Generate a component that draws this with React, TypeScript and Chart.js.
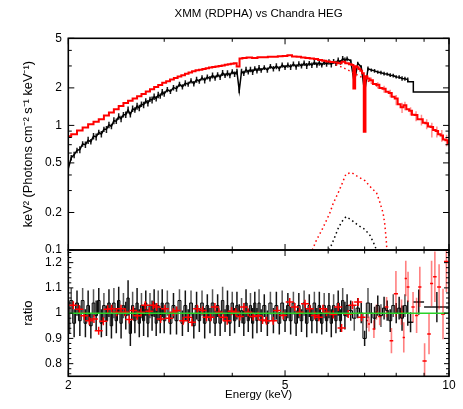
import React, { useEffect, useRef } from 'react';
import { Chart, registerables } from 'chart.js';

Chart.register(...registerables);

const FONT = '"Liberation Sans", Arial, sans-serif';

// ---------- text ----------
const titleText = 'XMM (RDPHA) vs Chandra HEG';
const xTitle = 'Energy (keV)';
const yTopTitle = 'keV\u00B2 (Photons cm\u207B\u00B2 s\u207B\u00B9 keV\u207B\u00B9)';
const yRatioTitle = 'ratio';

// ---------- ticks ----------
const xTicksMajor = [2, 5, 10];
const xTicksMinor = [3, 4, 6, 7, 8, 9];
const yTopMajor = [0.1, 0.2, 0.5, 1, 2, 5];
const yTopMinor = [0.3, 0.4, 0.6, 0.7, 0.8, 0.9, 3, 4];
const yRatioMajor = [0.8, 0.9, 1, 1.1, 1.2];
const yRatioMinor = [0.76, 0.78, 0.82, 0.84, 0.86, 0.88, 0.92, 0.94, 0.96, 0.98, 1.02, 1.04, 1.06, 1.08, 1.12, 1.14, 1.16, 1.18, 1.22, 1.24];

// ---------- Chandra HEG (black) ----------
const hegEnergy = [
  2.000, 2.025, 2.050, 2.075, 2.100, 2.125, 2.150, 2.175, 2.200, 2.225, 2.250, 2.275, 2.300, 2.325, 2.350, 2.375, 2.400, 2.425, 2.450, 2.475,
  2.500, 2.525, 2.550, 2.575, 2.600, 2.625, 2.650, 2.675, 2.700, 2.725, 2.750, 2.775, 2.800, 2.825, 2.850, 2.875, 2.900, 2.925, 2.950, 2.975, 3.000,
  3.04, 3.08, 3.12, 3.16, 3.20, 3.24, 3.28, 3.32, 3.36, 3.40, 3.44, 3.48, 3.52, 3.56, 3.60, 3.64, 3.68, 3.72, 3.76, 3.80,
  3.84, 3.88, 3.92, 3.96, 4.00, 4.04, 4.08, 4.12, 4.16, 4.20, 4.24, 4.28, 4.32, 4.36, 4.40, 4.44, 4.48, 4.52,
  4.58, 4.64, 4.70, 4.76, 4.82, 4.88, 4.94, 5.00, 5.06, 5.12, 5.18, 5.24, 5.30, 5.36, 5.42, 5.48, 5.54, 5.60, 5.66, 5.72,
  5.78, 5.84, 5.90, 5.96, 6.02, 6.08, 6.14, 6.20, 6.26, 6.32, 6.38, 6.44, 6.50,
  6.6, 6.7, 6.8, 6.9, 7.0, 7.1, 7.2, 7.3, 7.4, 7.5, 7.6, 7.7, 7.8, 7.9, 8.0, 8.1, 8.2, 8.3, 8.4,
];
const hegFlux = [
  0.45, 0.55, 0.58, 0.63, 0.64, 0.71, 0.70, 0.76, 0.74, 0.82, 0.81, 0.88, 0.85, 0.93, 0.93, 1.01, 0.98, 1.09, 1.08, 1.18,
  1.13, 1.22, 1.22, 1.33, 1.22, 1.36, 1.33, 1.43, 1.38, 1.48, 1.46, 1.57, 1.51, 1.62, 1.60, 1.70, 1.64, 1.76, 1.72, 1.85, 1.79,
  1.94, 1.87, 2.01, 1.97, 2.14, 2.04, 2.18, 2.14, 2.28, 2.16, 2.33, 2.26, 2.41, 2.30, 2.45, 2.37, 2.52, 2.40, 2.55, 2.44,
  2.64, 2.51, 2.63, 2.52, 2.70, 2.58, 2.70, 1.90, 2.71, 2.62, 2.80, 2.68, 2.81, 2.68, 2.86, 2.74, 2.89, 2.77,
  2.91, 2.78, 2.98, 2.85, 2.99, 2.85, 3.05, 2.92, 3.05, 2.94, 3.11, 2.95, 3.11, 3.00, 3.16, 3.00, 3.15, 3.04, 3.20, 3.06,
  3.19, 3.05, 3.21, 3.10, 3.23, 3.09, 3.26, 3.15, 3.34, 3.21, 3.43, 3.33, 3.42,
  3.30, 2.20, 3.15, 2.95, 1.85, 2.86, 2.78, 2.74, 2.68, 2.65, 2.60, 2.58, 2.53, 2.51, 2.45, 2.44, 2.38, 2.37, 2.33,
];
// fractional 1-sigma error of the HEG flux points
const hegFluxFracErr = [
  0.065, 0.05, 0.06, 0.05, 0.065, 0.05, 0.06, 0.065, 0.05, 0.06, 0.065, 0.05, 0.06, 0.05, 0.065, 0.06, 0.05, 0.065, 0.05, 0.06,
  0.06, 0.05, 0.06, 0.065, 0.05, 0.06, 0.05, 0.065, 0.06, 0.05, 0.06, 0.05, 0.06, 0.05, 0.065, 0.06, 0.05, 0.06, 0.05, 0.06, 0.05,
  0.05, 0.045, 0.05, 0.055, 0.045, 0.05, 0.055, 0.045, 0.05, 0.05, 0.055, 0.045, 0.05, 0.055, 0.045, 0.05, 0.055, 0.05, 0.045, 0.05,
  0.055, 0.045, 0.055, 0.05, 0.045, 0.05, 0.055, 0.045, 0.05, 0.05, 0.055, 0.045, 0.05, 0.055, 0.045, 0.05, 0.055, 0.045,
  0.045, 0.05, 0.045, 0.05, 0.055, 0.045, 0.05, 0.045, 0.05, 0.055, 0.045, 0.05, 0.05, 0.045, 0.05, 0.055, 0.045, 0.05, 0.045, 0.05,
  0.055, 0.045, 0.05, 0.045, 0.05, 0.055, 0.045, 0.05, 0.05, 0.045, 0.05, 0.055, 0.045,
  0.03, 0.04, 0.03, 0.03, 0.03, 0.04, 0.03, 0.035, 0.03, 0.035, 0.035, 0.03, 0.035, 0.035, 0.03, 0.035, 0.04, 0.035, 0.04,
];
const hegRatio = [
  0.92, 1.05, 0.96, 1.04, 0.97, 1.05, 0.96, 1.03, 0.95, 1.04, 0.99, 1.05, 0.96, 1.03, 0.97, 1.04, 0.95, 1.04, 0.97, 1.05,
  0.96, 1.03, 0.99, 1.06, 0.92, 1.03, 0.97, 1.04, 0.96, 1.03, 0.97, 1.04, 0.96, 1.03, 0.99, 1.04, 0.96, 1.03, 0.97, 1.04, 0.97,
  1.04, 0.96, 1.03, 0.97, 1.05, 0.96, 1.03, 0.97, 1.04, 0.95, 1.03, 0.97, 1.04, 0.96, 1.03, 0.97, 1.04, 0.96, 1.03, 0.96,
  1.05, 0.97, 1.03, 0.96, 1.04, 0.97, 1.03, 0.99, 1.01, 0.96, 1.04, 0.97, 1.03, 0.96, 1.04, 0.97, 1.04, 0.97,
  1.03, 0.96, 1.04, 0.97, 1.03, 0.96, 1.04, 0.97, 1.03, 0.97, 1.04, 0.96, 1.03, 0.97, 1.04, 0.96, 1.03, 0.97, 1.04, 0.97,
  1.03, 0.96, 1.03, 0.97, 1.03, 0.96, 1.03, 0.97, 1.04, 0.97, 1.05, 0.99, 1.03,
  1.01, 0.98, 1.02, 1.00, 0.90, 1.04, 1.00, 0.98, 1.03, 0.99, 1.02, 1.01, 0.97, 1.03, 1.00, 1.02, 0.98, 1.03, 1.00,
];
const hegRatioErr = [
  0.06, 0.05, 0.055, 0.05, 0.06, 0.05, 0.055, 0.06, 0.05, 0.055, 0.06, 0.05, 0.055, 0.05, 0.06, 0.055, 0.05, 0.06, 0.05, 0.055,
  0.06, 0.05, 0.055, 0.07, 0.05, 0.055, 0.05, 0.06, 0.055, 0.05, 0.06, 0.05, 0.055, 0.05, 0.06, 0.055, 0.05, 0.06, 0.05, 0.055, 0.05,
  0.05, 0.045, 0.05, 0.055, 0.045, 0.05, 0.06, 0.045, 0.05, 0.05, 0.055, 0.045, 0.05, 0.06, 0.045, 0.05, 0.055, 0.05, 0.045, 0.05,
  0.055, 0.045, 0.06, 0.05, 0.045, 0.05, 0.055, 0.045, 0.05, 0.05, 0.055, 0.045, 0.05, 0.06, 0.045, 0.05, 0.055, 0.045,
  0.045, 0.05, 0.045, 0.05, 0.055, 0.045, 0.05, 0.045, 0.05, 0.055, 0.045, 0.05, 0.05, 0.045, 0.05, 0.055, 0.045, 0.05, 0.045, 0.05,
  0.055, 0.045, 0.05, 0.045, 0.05, 0.055, 0.045, 0.05, 0.05, 0.045, 0.05, 0.055, 0.045,
  0.04, 0.05, 0.04, 0.04, 0.03, 0.06, 0.04, 0.045, 0.04, 0.045, 0.045, 0.04, 0.045, 0.045, 0.04, 0.045, 0.05, 0.045, 0.05,
];
// coarse HEG bins above 8.4 keV
const hegTailEnergy = [8.4, 8.6, 9.0, 10.0];
const hegTailFlux = [2.33, 2.24, 1.85, 1.85];
const hegTailRatioE = [8.5, 8.8, 9.5];
const hegTailRatio = [0.964, 1.044, 1.024];
const hegTailRatioErr = [0.04, 0.05, 0.06];
const hegTailRatioBin = [0.1, 0.2, 0.5];
// HEG line component (dotted)
const hegLineE = [6.02, 6.08, 6.17, 6.26, 6.35, 6.47, 6.62, 6.81, 7.01, 7.16, 7.26, 7.36];
const hegLineF = [0.1, 0.109, 0.127, 0.149, 0.168, 0.185, 0.174, 0.158, 0.146, 0.131, 0.116, 0.1];

// ---------- XMM (red) ----------
const xmmEnergy = [
  2.00, 2.05, 2.10, 2.15, 2.20, 2.25, 2.30, 2.35, 2.40, 2.45, 2.50, 2.55, 2.60, 2.65, 2.70, 2.75, 2.80, 2.85, 2.90, 2.95,
  3.00, 3.05, 3.10, 3.15, 3.20, 3.25, 3.30, 3.35, 3.40, 3.45, 3.50, 3.55, 3.60, 3.65, 3.70, 3.75, 3.80, 3.85, 3.90, 3.95, 4.00,
  4.05, 4.10, 4.15,
  4.2, 4.3, 4.4, 4.5, 4.6, 4.7, 4.8, 4.9, 5.0, 5.1, 5.2, 5.3, 5.4, 5.5, 5.6, 5.7, 5.8, 5.9, 6.0, 6.1, 6.2, 6.3, 6.4, 6.5, 6.6,
  6.65, 6.70, 6.75, 6.80, 6.85, 6.90, 6.95, 7.00, 7.05, 7.10,
  7.2, 7.3, 7.4, 7.5, 7.6, 7.7, 7.8, 7.9, 8.0, 8.1, 8.2, 8.3, 8.4, 8.5, 8.6, 8.7, 8.8, 8.9, 9.0, 9.1, 9.2, 9.3, 9.4, 9.5,
  9.6, 9.7, 9.8, 9.9, 10.0,
];
const xmmFlux = [
  0.82, 0.85, 0.91, 0.96, 1.02, 1.07, 1.12, 1.20, 1.27, 1.35, 1.43, 1.51, 1.58, 1.64, 1.71, 1.79, 1.87, 1.95, 2.03, 2.11,
  2.20, 2.26, 2.33, 2.40, 2.47, 2.53, 2.60, 2.66, 2.72, 2.77, 2.80, 2.84, 2.88, 2.91, 2.94, 2.97, 3.00, 3.03, 3.06, 3.09, 3.12,
  3.16, 2.97, 3.45,
  3.47, 3.50, 3.48, 3.53, 3.52, 3.56, 3.55, 3.59, 3.60, 3.65, 3.58, 3.56, 3.50, 3.48, 3.44, 3.41, 3.35, 3.30, 3.26, 3.22, 3.19, 3.16, 3.24, 3.15, 3.10,
  3.05, 1.98, 2.98, 2.93, 2.84, 2.74, 2.62, 0.89, 2.48, 2.38,
  2.30, 2.15, 2.12, 2.00, 1.97, 1.86, 1.82, 1.70, 1.64, 1.48, 1.40, 1.45, 1.35, 1.31, 1.22, 1.21, 1.12, 1.12, 1.05, 1.04,
  0.98, 0.97, 0.92, 0.90, 0.85, 0.83, 0.77, 0.76, 0.72,
];
// XMM error bars above 7 keV (lower / upper)
const xmmBarE = [7.1, 7.2, 7.4, 7.6, 7.8, 8.0, 8.2, 8.3, 8.5, 8.7, 8.9, 9.1, 9.3, 9.5, 9.7, 9.9];
const xmmBarLo = [2.25, 2.15, 1.98, 1.83, 1.68, 1.45, 1.26, 1.32, 1.20, 1.08, 1.00, 0.93, 0.80, 0.80, 0.74, 0.68];
const xmmBarHi = [2.50, 2.42, 2.22, 2.08, 1.93, 1.75, 1.52, 1.55, 1.40, 1.30, 1.22, 1.12, 1.05, 0.98, 0.92, 0.84];
// XMM continuum (dotted) and line component (dotted)
const xmmContE = [6.2, 6.4, 6.6, 6.8, 7.0, 7.2, 7.4, 7.6];
const xmmContF = [3.07, 2.90, 2.71, 2.53, 2.36, 2.20, 2.06, 1.94];
const xmmLineE = [5.61, 5.71, 5.84, 5.96, 6.04, 6.13, 6.26, 6.35, 6.47, 6.62, 6.77, 7.01, 7.21, 7.36, 7.46, 7.57, 7.62, 7.67, 7.69];
const xmmLineF = [0.10, 0.12, 0.144, 0.174, 0.197, 0.237, 0.288, 0.333, 0.408, 0.418, 0.393, 0.36, 0.313, 0.288, 0.244, 0.197, 0.163, 0.12, 0.10];
// XMM ratio
const xmmRatioE = [
  2.043, 2.095, 2.140, 2.185, 2.229, 2.274, 2.319, 2.362, 2.402, 2.454, 2.499, 2.545, 2.588, 2.632, 2.677, 2.719, 2.769, 2.816, 2.864, 2.906,
  2.955, 3.009, 3.064, 3.117, 3.162, 3.251, 3.321, 3.373, 3.449, 3.529, 3.589, 3.650, 3.717, 3.781, 3.850, 3.915, 3.989, 4.062, 4.131, 4.201,
  4.278, 4.369, 4.463, 4.547, 4.624, 4.755, 4.836, 4.96, 5.10, 5.21, 5.32, 5.44, 5.55, 5.67, 5.77, 5.87, 5.96, 6.13, 6.26, 6.35,
  6.53, 6.65, 6.81, 6.91,
];
const xmmRatio = [
  1.031, 1.015, 0.990, 0.970, 0.977, 0.930, 0.968, 1.015, 1.017, 1.004, 1.017, 1.004, 0.975, 1.010, 0.990, 1.004, 1.031, 1.008, 1.031, 1.024,
  0.977, 1.017, 0.980, 1.004, 1.010, 0.970, 0.984, 0.964, 1.017, 1.010, 0.984, 0.984, 1.024, 1.004, 0.984, 0.970, 1.008, 1.004, 0.987, 1.024,
  1.004, 0.987, 0.990, 0.973, 0.970, 0.970, 1.010, 0.991, 1.044, 1.024, 1.004, 1.037, 1.017, 0.991, 0.984, 1.017, 1.004, 0.995, 1.024, 0.941,
  0.997, 1.031, 1.044, 0.984,
];
const xmmRatioHiE = [7.07, 7.13, 7.28, 7.36, 7.46, 7.68, 7.84, 7.99, 8.18, 8.26, 8.33, 8.41, 8.59, 8.72, 8.84, 9.02, 9.19, 9.29, 9.42, 9.59, 9.75, 9.89];
const xmmRatioHi = [0.971, 0.957, 0.937, 1.004, 0.987, 1.024, 0.891, 1.077, 1.004, 0.904, 1.137, 1.104, 1.024, 0.991, 1.104, 0.811, 0.917, 1.117, 1.144, 1.104, 0.997, 1.204];
const xmmRatioHiErr = [0.03, 0.03, 0.035, 0.03, 0.035, 0.04, 0.05, 0.09, 0.05, 0.06, 0.07, 0.06, 0.06, 0.07, 0.08, 0.07, 0.08, 0.09, 0.1, 0.09, 0.1, 0.12];
const xmmRatioHiBin = [0.03, 0.03, 0.04, 0.04, 0.05, 0.06, 0.06, 0.07, 0.05, 0.04, 0.04, 0.05, 0.06, 0.06, 0.06, 0.08, 0.07, 0.06, 0.07, 0.08, 0.08, 0.1];
// model reference line
const modelRatioE = [2, 10];
const modelRatio = [1, 1];

const pts = (xs: number[], ys: number[]) => xs.map((x, i) => ({ x, y: ys[i] }));

const panelPlugin = {
  id: 'xspecPanels',
  beforeDatasetsDraw(chart: any) {
    const { ctx, chartArea: ca, scales } = chart;
    const xs = scales.x, yt = scales.y, yr = scales.yr;
    const clipTo = (s: any) => {
      ctx.beginPath();
      ctx.rect(ca.left, s.top, ca.right - ca.left, s.bottom - s.top);
      ctx.clip();
    };
    const vbar = (x: number, lo: number, hi: number, ys: any) => {
      const px = xs.getPixelForValue(x);
      ctx.beginPath();
      ctx.moveTo(px, ys.getPixelForValue(lo));
      ctx.lineTo(px, ys.getPixelForValue(hi));
      ctx.stroke();
    };
    const hbar = (x0: number, x1: number, y: number, ys: any) => {
      const py = ys.getPixelForValue(y);
      ctx.beginPath();
      ctx.moveTo(xs.getPixelForValue(x0), py);
      ctx.lineTo(xs.getPixelForValue(x1), py);
      ctx.stroke();
    };
    // top panel error bars
    ctx.save();
    clipTo(yt);
    ctx.strokeStyle = 'rgba(0,0,0,0.9)';
    ctx.lineWidth = 1.5;
    hegEnergy.forEach((e, i) => vbar(e, hegFlux[i] * (1 - hegFluxFracErr[i]), hegFlux[i] * (1 + hegFluxFracErr[i]), yt));
    ctx.strokeStyle = 'rgba(255,0,0,0.45)';
    ctx.lineWidth = 1.5;
    xmmBarE.forEach((e, i) => vbar(e, xmmBarLo[i], xmmBarHi[i], yt));
    ctx.restore();

    // ratio panel
    ctx.save();
    clipTo(yr);
    ctx.lineWidth = 1.5;
    hegEnergy.forEach((e, i) => {
      ctx.strokeStyle = i % 4 === 1 ? 'rgba(70,70,70,0.9)' : 'rgba(0,0,0,0.92)';
      vbar(e, hegRatio[i] - hegRatioErr[i], hegRatio[i] + hegRatioErr[i], yr);
    });
    ctx.strokeStyle = 'rgba(0,0,0,0.9)';
    hegTailRatioE.forEach((e, i) => {
      vbar(e, hegTailRatio[i] - hegTailRatioErr[i], hegTailRatio[i] + hegTailRatioErr[i], yr);
      hbar(e - hegTailRatioBin[i], e + hegTailRatioBin[i], hegTailRatio[i], yr);
    });
    xmmRatioHiE.forEach((e, i) => {
      ctx.strokeStyle = 'rgba(255,0,0,0.5)';
      ctx.lineWidth = 1.6;
      vbar(e, xmmRatioHi[i] - xmmRatioHiErr[i], xmmRatioHi[i] + xmmRatioHiErr[i], yr);
      ctx.strokeStyle = '#ff0000';
      ctx.lineWidth = 1.5;
      hbar(e - xmmRatioHiBin[i], e + xmmRatioHiBin[i], xmmRatioHi[i], yr);
    });
    ctx.restore();
  },
  afterDatasetsDraw(chart: any) {
    const { ctx, chartArea: ca, scales } = chart;
    const xs = scales.x, yt = scales.y, yr = scales.yr;
    ctx.save();
    ctx.strokeStyle = '#000';
    ctx.lineWidth = 1;
    const line = (x0: number, y0: number, x1: number, y1: number) => {
      ctx.beginPath();
      ctx.moveTo(x0, y0);
      ctx.lineTo(x1, y1);
      ctx.stroke();
    };
    [yt, yr].forEach((ys: any) => {
      const top = ys.top, bot = ys.bottom;
      xTicksMajor.concat(xTicksMinor).forEach((v) => {
        const len = xTicksMajor.includes(v) ? 6 : 3.5;
        const px = xs.getPixelForValue(v);
        line(px, top, px, top + len);
        line(px, bot, px, bot - len);
      });
    });
    const yTicks = (ys: any, major: number[], minor: number[], lm: number, ln: number) => {
      major.concat(minor).forEach((v) => {
        const len = major.includes(v) ? lm : ln;
        const py = ys.getPixelForValue(v);
        line(ca.left, py, ca.left + len, py);
        line(ca.right, py, ca.right - len, py);
      });
    };
    yTicks(yt, yTopMajor, yTopMinor, 6, 3.5);
    yTicks(yr, yRatioMajor, yRatioMinor, 5, 3);
    ctx.lineWidth = 1.6;
    [yt, yr].forEach((ys: any) => {
      ctx.strokeRect(ca.left, ys.top, ca.right - ca.left, ys.bottom - ys.top);
    });
    ctx.restore();
  },
};

export default function App() {
  const ref = useRef<HTMLCanvasElement>(null);
  useEffect(() => {
    Chart.defaults.font.family = FONT;
    Chart.defaults.font.size = 12;
    Chart.defaults.color = '#000';
    const fmt = (v: any) => String(Number(v.toFixed ? v.toFixed(3) : v));
    const chart = new Chart(ref.current as HTMLCanvasElement, {
      type: 'line',
      data: {
        datasets: [
          { label: 'model', data: pts(modelRatioE, modelRatio), yAxisID: 'yr', borderColor: 'rgb(40,210,40)', borderWidth: 1.5, pointRadius: 0, order: 0 },
          { label: 'XMM ratio', data: pts(xmmRatioE, xmmRatio), yAxisID: 'yr', showLine: false, pointStyle: 'cross', pointRadius: 4, borderColor: '#ff0000', backgroundColor: '#ff0000', borderWidth: 1.5, order: 1 },
          { label: 'HEG ratio', data: pts(hegEnergy, hegRatio), yAxisID: 'yr', stepped: 'middle', borderColor: '#000', borderWidth: 1, pointRadius: 0, order: 3 },
          { label: 'HEG line', data: pts(hegLineE, hegLineF), yAxisID: 'y', borderColor: '#000', borderWidth: 1.5, borderDash: [1.5, 3], pointRadius: 0, order: 0 },
          { label: 'XMM line', data: pts(xmmLineE, xmmLineF), yAxisID: 'y', borderColor: '#ff0000', borderWidth: 1.5, borderDash: [1.5, 3], pointRadius: 0, order: 0 },
          { label: 'XMM continuum', data: pts(xmmContE, xmmContF), yAxisID: 'y', borderColor: '#ff0000', borderWidth: 1.5, borderDash: [1.5, 3], pointRadius: 0, order: 0 },
          { label: 'XMM', data: pts(xmmEnergy, xmmFlux), yAxisID: 'y', stepped: 'middle', borderColor: '#ff0000', borderWidth: 2, pointRadius: 0, order: 1 },
          { label: 'HEG', data: pts(hegEnergy, hegFlux), yAxisID: 'y', borderColor: '#000', borderWidth: 1.5, pointRadius: 0, order: 2 },
          { label: 'HEG tail', data: pts(hegTailEnergy, hegTailFlux), yAxisID: 'y', stepped: 'after', borderColor: '#000', borderWidth: 1.5, pointRadius: 0, order: 2 },
        ],
      },
      options: {
        responsive: false,
        animation: false,
        events: [],
        layout: { padding: { left: 0, right: 14, top: 0, bottom: 0 } },
        plugins: {
          legend: { display: false },
          tooltip: { enabled: false },
          title: {
            display: true,
            text: titleText,
            fullSize: false,
            color: '#000',
            font: { size: 11.5, weight: 'normal', family: FONT },
            padding: { top: 6.5, bottom: 18 },
          },
        },
        scales: {
          x: {
            type: 'logarithmic',
            min: 2,
            max: 10,
            position: 'bottom',
            afterBuildTicks: (s: any) => { s.ticks = xTicksMajor.map((v) => ({ value: v })); },
            afterFit: (s: any) => { s.height = 32.7; },
            grid: { display: false, drawTicks: false, tickLength: 0 },
            border: { display: false },
            ticks: { autoSkip: false, maxRotation: 0, padding: 2, callback: fmt, font: { size: 12 } },
            title: { display: true, text: xTitle, padding: { top: 0, bottom: 7 }, font: { size: 11.5 } },
          },
          yr: {
            type: 'linear',
            min: 0.75,
            max: 1.25,
            position: 'left',
            stack: 'panels',
            stackWeight: 126.3,
            weight: 0,
            afterBuildTicks: (s: any) => { s.ticks = yRatioMajor.map((v) => ({ value: v })); },
            afterFit: (s: any) => { s.width = 68.3; },
            grid: { display: false, drawTicks: false, tickLength: 0 },
            border: { display: false },
            ticks: { autoSkip: false, padding: 6.5, callback: fmt, font: { size: 12 } },
            title: { display: true, text: yRatioTitle, padding: { top: 21, bottom: 0 }, font: { size: 13 } },
          },
          y: {
            type: 'logarithmic',
            min: 0.1,
            max: 5,
            position: 'left',
            stack: 'panels',
            stackWeight: 211.7,
            weight: 1,
            afterBuildTicks: (s: any) => { s.ticks = yTopMajor.map((v) => ({ value: v })); },
            afterFit: (s: any) => { s.width = 68.3; },
            grid: { display: false, drawTicks: false, tickLength: 0 },
            border: { display: false },
            ticks: { autoSkip: false, padding: 6.5, callback: fmt, font: { size: 12 } },
            title: { display: true, text: yTopTitle, padding: { top: 21, bottom: 0 }, font: { size: 12.8 } },
          },
        },
      } as any,
      plugins: [panelPlugin],
    } as any);
    return () => chart.destroy();
  }, []);
  return (
    <div style={{ position: 'fixed', left: 0, top: 0, width: 463, height: 409, background: '#fff' }}>
      <canvas ref={ref} width={463} height={409} style={{ display: 'block', width: 463, height: 409 }} />
    </div>
  );
}
